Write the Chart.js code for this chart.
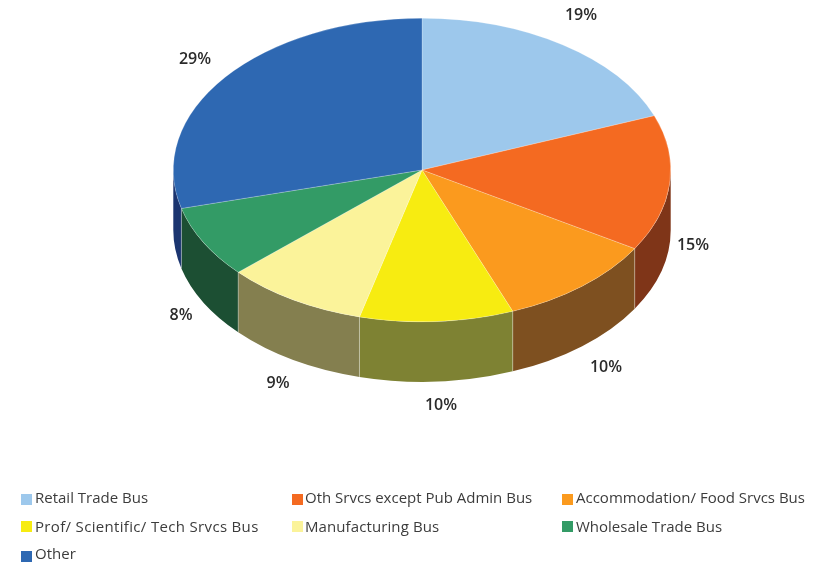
<!DOCTYPE html>
<html><head><meta charset="utf-8">
<style>html,body{margin:0;padding:0;background:#fff}canvas{display:block}</style>
<script src="https://cdn.jsdelivr.net/npm/chart.js@4"></script>
</head><body>
<canvas id="c" width="821" height="564"></canvas>
<script>
const categories = ["Retail Trade Bus","Oth Srvcs except Pub Admin Bus","Accommodation/ Food Srvcs Bus","Prof/ Scientific/ Tech Srvcs Bus","Manufacturing Bus","Wholesale Trade Bus","Other"];
const values = [19.2,14.5,10.4,10,9.2,7.7,29.1];
const topColors = ["#9DC8EC","#F46A21","#FB9A1E","#F7EC11","#FBF39A","#339B66","#2E68B2"];
const sideColors = ["#4F6476","#7F3518","#7E5020","#7E8233","#847F4F","#1C4F33","#1B3570"];
const pctLabels = ["19%","15%","10%","10%","9%","8%","29%"];

const squash = 152/249, depth = 60, targetCy = 170;
const pctPos = [[581,15],[693,245],[606,367],[441,405],[278,383],[181,315],[195,59]];
const swatchPos = [[21,494],[292,494],[562,494],[21,521],[292,521],[562,521],[21,551]];
const textPos = [[35,503],[305,503],[576,503],[35,532],[305,532],[576,532],[35,559]];
const legendSpacing = [0,0,0,0.33,0.1,0,0];
const FONT = '"Open Sans", sans-serif';

const pie3d = {
  id:'pie3d',
  beforeDatasetsDraw(chart){
    const ctx = chart.ctx, arcs = chart.getDatasetMeta(0).data;
    const cy0 = arcs[0].y;
    const ty = targetCy - cy0*squash;
    ctx.save();
    // walls
    arcs.forEach((a,i)=>{
      let s = a.startAngle, e = a.endAngle;
      const t = Math.PI*2;
      while(e > t){s-=t;e-=t;}
      while(s < -t){s+=t;e+=t;}
      const from = Math.max(s,0), to = Math.min(e,Math.PI);
      if(to<=from) return;
      const rx = a.outerRadius, ry = a.outerRadius*squash, cx = a.x, cy = cy0*squash+ty;
      ctx.beginPath();
      ctx.ellipse(cx,cy,rx,ry,0,from,to,false);
      ctx.ellipse(cx,cy+depth,rx,ry,0,to,from,true);
      ctx.closePath();
      ctx.fillStyle = sideColors[i];
      ctx.fill();
      if(s>0 && s<Math.PI){
        const x = cx+rx*Math.cos(s), y = cy+ry*Math.sin(s);
        ctx.beginPath();ctx.moveTo(x,y);ctx.lineTo(x,y+depth);
        ctx.strokeStyle='rgba(255,255,255,0.35)';ctx.lineWidth=1;ctx.stroke();
      }
    });
    ctx.restore();
    ctx.save();
    ctx.translate(0,ty);
    ctx.scale(1,squash);
  },
  afterDatasetsDraw(chart){
    const ctx = chart.ctx;
    ctx.restore();
    ctx.save();
    ctx.textBaseline='middle';
    ctx.textAlign='center';
    ctx.fillStyle='#2b2b2b';
    ctx.font='600 16px '+FONT;
    pctLabels.forEach((t,i)=>ctx.fillText(t,pctPos[i][0],pctPos[i][1]));
    ctx.textAlign='left';
    ctx.textBaseline='alphabetic';
    ctx.font='15px '+FONT;
    categories.forEach((t,i)=>{
      const [x,y]=swatchPos[i];
      ctx.fillStyle=topColors[i];
      ctx.fillRect(x,y,11,11);
      ctx.fillStyle='#3c3c3c';
      ctx.letterSpacing=legendSpacing[i]+'px';
      ctx.fillText(t,textPos[i][0],textPos[i][1]);
    });
    ctx.restore();
  }
};

new Chart(document.getElementById('c'),{
  type:'pie',
  data:{labels:categories,datasets:[{data:values,backgroundColor:topColors,borderWidth:0.6,borderColor:'rgba(255,255,255,0.45)'}]},
  options:{
    responsive:false,animation:false,
    layout:{padding:{left:173,right:150,top:33,bottom:33}},
    plugins:{legend:{display:false},tooltip:{enabled:false}}
  },
  plugins:[pie3d]
});
</script>
</body></html>
